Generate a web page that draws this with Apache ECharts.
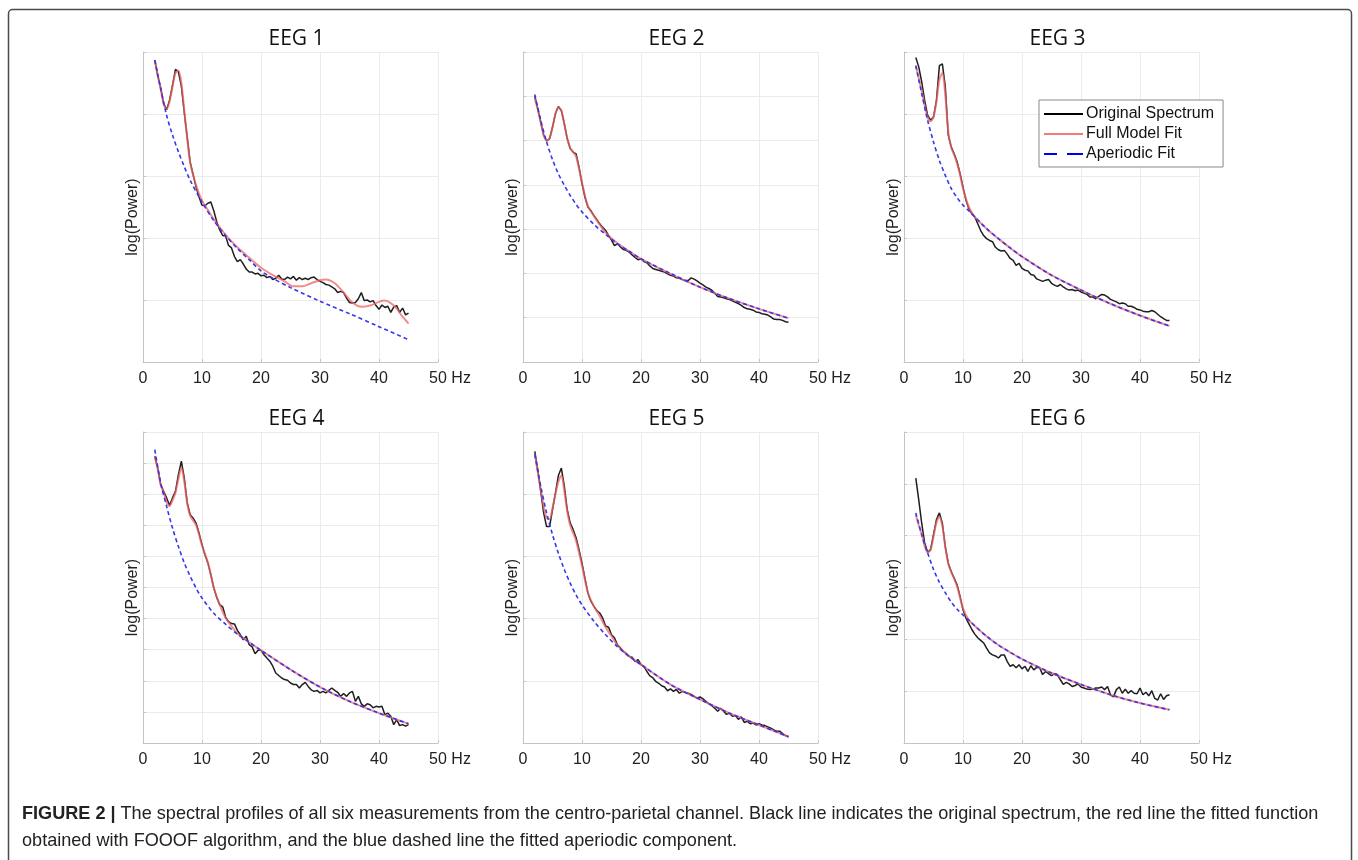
<!DOCTYPE html>
<html>
<head>
<meta charset="utf-8">
<script src="https://cdn.jsdelivr.net/npm/echarts@6/dist/echarts.min.js"></script>
<style>
html,body{margin:0;padding:0;background:#fff;}
#chart{width:1358px;height:860px;}
</style>
</head>
<body>
<div id="chart"></div>
<script>
// Frequencies (Hz) of the original spectra
const FREQ = [2,2.5,3,3.5,4,4.5,5,5.5,6,6.5,7,7.5,8,8.5,9,9.5,10,10.5,11,11.5,12,12.5,13,13.5,14,14.5,15,15.5,16,16.5,17,17.5,18,18.5,19,19.5,20,20.5,21,21.5,22,22.5,23,23.5,24,24.5,25,25.5,26,26.5,27,27.5,28,28.5,29,29.5,30,30.5,31,31.5,32,32.5,33,33.5,34,34.5,35,35.5,36,36.5,37,37.5,38,38.5,39,39.5,40,40.5,41,41.5,42,42.5,43,43.5,44,44.5,45];
const X_TICKS = [0,10,20,30,40,50];
const TITLES = ['EEG 1','EEG 2','EEG 3','EEG 4','EEG 5','EEG 6'];
const Y_DIVISIONS = [5,7,5,10,5,6];

// EEG 1
const eeg1Orig = [4.87,4.62,4.42,4.17,4.07,4.22,4.46,4.72,4.68,4.45,4.02,3.62,3.22,3.02,2.82,2.66,2.53,2.52,2.56,2.58,2.44,2.26,2.13,2.04,2.03,1.88,1.84,1.70,1.62,1.65,1.58,1.50,1.45,1.45,1.42,1.43,1.39,1.40,1.36,1.38,1.33,1.35,1.40,1.34,1.33,1.37,1.34,1.38,1.32,1.36,1.33,1.35,1.33,1.36,1.37,1.33,1.30,1.28,1.25,1.24,1.21,1.18,1.12,1.14,1.12,1.03,0.96,0.95,0.96,1.02,1.12,0.99,1.00,0.97,0.99,0.91,0.85,0.92,0.88,0.90,0.80,0.89,0.91,0.80,0.87,0.76,0.79];
const eeg1Full = [[2,4.87],[2.5,4.62],[3,4.40],[3.5,4.16],[4,4.08],[4.5,4.20],[5,4.44],[5.5,4.66],[6,4.70],[6.5,4.50],[7,4.06],[7.5,3.60],[8,3.22],[9,2.85],[10,2.60],[11,2.45],[12,2.30],[14,2.05],[16,1.85],[18,1.68],[20,1.52],[22,1.40],[24,1.30],[25.5,1.22],[27,1.22],[28.5,1.27],[30,1.32],[31,1.33],[32.5,1.27],[34,1.12],[35.5,0.96],[37,0.89],[38.5,0.91],[40,0.97],[41,0.99],[42,0.95],[43,0.86],[44,0.73],[45,0.62]];
const eeg1Aper = [[2,4.87],[3,4.41],[4,3.98],[5,3.66],[6,3.39],[7,3.15],[8,2.93],[10,2.58],[12,2.28],[14,2.04],[16,1.83],[18,1.65],[20,1.47],[22,1.35],[25,1.20],[30,0.98],[35,0.78],[40,0.57],[45,0.36]];

// EEG 2
const eeg2Orig = [6.00,5.72,5.42,5.12,4.99,5.04,5.30,5.61,5.77,5.68,5.38,5.04,4.82,4.74,4.70,4.40,4.03,3.72,3.50,3.42,3.31,3.22,3.12,3.04,2.97,2.86,2.75,2.63,2.67,2.60,2.54,2.52,2.48,2.42,2.36,2.31,2.33,2.27,2.24,2.17,2.11,2.09,2.07,2.05,2.03,1.99,1.96,1.94,1.90,1.89,1.86,1.84,1.84,1.90,1.87,1.83,1.78,1.74,1.69,1.66,1.62,1.55,1.48,1.47,1.45,1.43,1.41,1.38,1.35,1.32,1.28,1.23,1.20,1.19,1.17,1.13,1.12,1.09,1.08,1.06,1.02,0.97,0.96,0.96,0.94,0.91,0.90];
const eeg2Full = [[2,5.95],[2.5,5.70],[3,5.42],[3.5,5.13],[4,5.00],[4.5,5.05],[5,5.30],[5.5,5.60],[6,5.75],[6.5,5.67],[7,5.38],[7.5,5.05],[8,4.83],[8.5,4.74],[9,4.64],[10,4.05],[11,3.52],[12,3.30],[13,3.10],[14,2.92],[16,2.68],[18,2.50],[20,2.33],[25,1.99],[30,1.69],[35,1.43],[40,1.20],[45,0.99]];
const eeg2Aper = [[2,6.04],[3,5.46],[4,4.97],[5,4.57],[6,4.25],[7,3.99],[8,3.76],[9,3.56],[10,3.39],[12,3.11],[14,2.88],[16,2.67],[18,2.50],[20,2.33],[25,2.00],[30,1.69],[35,1.43],[40,1.20],[45,0.99]];

// EEG 3
const eeg3Orig = [4.91,4.76,4.52,4.22,3.98,3.90,3.95,4.22,4.78,4.81,4.44,3.66,3.47,3.36,3.23,3.04,2.82,2.61,2.47,2.39,2.34,2.23,2.12,2.04,1.99,1.96,1.94,1.85,1.81,1.79,1.80,1.74,1.67,1.64,1.56,1.59,1.51,1.48,1.47,1.41,1.40,1.34,1.32,1.30,1.32,1.33,1.27,1.24,1.22,1.25,1.21,1.18,1.16,1.17,1.15,1.16,1.13,1.11,1.09,1.05,1.05,1.02,1.06,1.09,1.08,1.05,1.01,0.99,0.97,0.94,0.95,0.94,0.90,0.90,0.88,0.85,0.84,0.82,0.81,0.81,0.83,0.81,0.77,0.73,0.70,0.67,0.67];
const eeg3Full = [[2,4.78],[2.5,4.58],[3,4.38],[3.5,4.14],[4,3.95],[4.5,3.88],[5,3.95],[5.5,4.20],[6,4.55],[6.5,4.66],[7,4.30],[7.5,3.72],[8,3.46],[8.5,3.34],[9,3.20],[9.5,3.02],[10,2.80],[11,2.50],[12,2.34],[14,2.15],[16,1.99],[18,1.84],[20,1.70],[25,1.40],[30,1.16],[35,0.94],[40,0.75],[45,0.58]];
const eeg3Aper = [[2,4.78],[3,4.33],[4,3.90],[5,3.55],[6,3.25],[7,3.01],[8,2.80],[9,2.65],[10,2.53],[11.5,2.39],[12,2.34],[14,2.15],[16,1.99],[18,1.84],[20,1.70],[25,1.40],[30,1.16],[35,0.94],[40,0.75],[45,0.58]];

// EEG 4
const eeg4Orig = [9.22,8.84,8.31,8.09,7.88,7.64,7.88,8.09,8.63,9.06,8.52,7.72,7.34,7.23,7.07,6.75,6.38,6.05,5.79,5.41,4.98,4.68,4.45,4.38,4.05,3.90,3.84,3.83,3.62,3.48,3.32,3.43,3.16,3.09,2.87,2.98,2.98,2.84,2.73,2.63,2.47,2.25,2.17,2.09,2.04,2.02,1.93,1.88,1.88,1.77,1.88,1.95,1.82,1.71,1.66,1.69,1.61,1.66,1.61,1.69,1.77,1.69,1.63,1.50,1.59,1.50,1.61,1.66,1.34,1.50,1.26,1.18,1.26,1.23,1.13,1.18,1.16,1.18,0.91,0.96,0.86,0.59,0.75,0.56,0.59,0.54,0.59];
const eeg4Full = [[2,9.20],[2.5,8.80],[3,8.30],[3.5,8.05],[4,7.75],[4.5,7.62],[5,7.80],[5.5,8.05],[6,8.48],[6.5,8.85],[7,8.40],[7.5,7.70],[8,7.30],[9,7.00],[10,6.35],[11,5.80],[12,5.00],[13,4.45],[14,4.02],[15,3.76],[16,3.52],[18,3.24],[20,2.98],[25,2.36],[30,1.80],[35,1.34],[40,0.96],[45,0.62]];
const eeg4Aper = [[2,9.43],[3,8.36],[4,7.61],[5,6.91],[6,6.32],[7,5.79],[8,5.36],[9,4.98],[10,4.66],[12,4.17],[14,3.82],[16,3.50],[18,3.24],[20,2.98],[25,2.36],[30,1.80],[35,1.34],[40,0.96],[45,0.62]];

// EEG 5
const eeg5Orig = [4.69,4.39,4.05,3.70,3.48,3.48,3.75,4.02,4.30,4.42,4.13,3.75,3.54,3.43,3.30,3.11,2.89,2.65,2.41,2.28,2.20,2.13,2.09,2.01,1.88,1.86,1.74,1.69,1.58,1.53,1.47,1.44,1.39,1.38,1.31,1.34,1.26,1.23,1.15,1.08,1.05,0.99,0.96,0.92,0.90,0.84,0.87,0.83,0.86,0.80,0.83,0.81,0.80,0.78,0.75,0.72,0.74,0.71,0.67,0.63,0.60,0.56,0.51,0.56,0.51,0.46,0.48,0.43,0.44,0.38,0.42,0.33,0.35,0.31,0.32,0.29,0.31,0.29,0.28,0.26,0.24,0.21,0.19,0.19,0.15,0.12,0.10];
const eeg5Full = [[2,4.64],[2.5,4.36],[3,4.08],[3.5,3.80],[4,3.62],[4.5,3.60],[5,3.78],[5.5,4.00],[6,4.20],[6.5,4.30],[7,4.05],[7.5,3.72],[8,3.50],[9,3.25],[10,2.85],[11,2.42],[12,2.20],[13,2.04],[14,1.86],[15,1.72],[16,1.57],[18,1.40],[20,1.26],[25,0.94],[30,0.70],[35,0.48],[40,0.29],[45,0.10]];
const eeg5Aper = [[2,4.64],[3,4.13],[4,3.70],[5,3.35],[6,3.05],[7,2.79],[8,2.57],[9,2.38],[10,2.22],[12,1.96],[14,1.74],[16,1.55],[18,1.39],[20,1.26],[25,0.94],[30,0.70],[35,0.48],[40,0.29],[45,0.10]];

// EEG 6
const eeg6Orig = [5.11,4.69,4.24,3.86,3.68,3.73,4.02,4.31,4.44,4.24,3.79,3.47,3.31,3.18,3.05,2.83,2.57,2.41,2.30,2.19,2.10,2.03,1.98,1.93,1.83,1.74,1.70,1.68,1.64,1.70,1.70,1.57,1.48,1.51,1.45,1.51,1.43,1.48,1.38,1.49,1.41,1.46,1.45,1.32,1.38,1.34,1.30,1.34,1.32,1.22,1.13,1.17,1.14,1.09,1.11,1.14,1.08,1.06,1.04,1.03,1.04,1.06,1.06,1.08,1.03,1.09,0.93,0.89,1.03,1.08,0.96,1.04,0.96,1.01,0.96,0.95,1.06,0.93,0.98,0.91,1.01,0.86,0.83,0.95,0.84,0.91,0.93];
const eeg6Full = [[2,4.40],[2.5,4.20],[3,4.03],[3.5,3.80],[4,3.68],[4.5,3.72],[5,3.98],[5.5,4.25],[6,4.36],[6.5,4.18],[7,3.78],[7.5,3.46],[8,3.30],[8.5,3.17],[9,3.02],[10,2.60],[11,2.37],[12,2.26],[14,2.06],[16,1.89],[18,1.75],[20,1.62],[25,1.35],[30,1.13],[35,0.93],[40,0.77],[45,0.64]];
const eeg6Aper = [[2,4.44],[3,4.02],[4,3.67],[5,3.35],[6,3.10],[7,2.90],[8,2.72],[9,2.58],[10,2.47],[11,2.37],[12,2.26],[14,2.06],[16,1.89],[18,1.75],[20,1.62],[25,1.35],[30,1.13],[35,0.93],[40,0.77],[45,0.64]];

const ORIG = [eeg1Orig,eeg2Orig,eeg3Orig,eeg4Orig,eeg5Orig,eeg6Orig];
const FULL = [eeg1Full,eeg2Full,eeg3Full,eeg4Full,eeg5Full,eeg6Full];
const APER = [eeg1Aper,eeg2Aper,eeg3Aper,eeg4Aper,eeg5Aper,eeg6Aper];

// layout
const GRID_POS = [[143,52],[523,52],[904,52],[143,432],[523,432],[904,432]];
const GRID_W = 295, GRID_H = [310,310,310,311,311,311];

const SANS = '"Liberation Sans", Arial, Helvetica, sans-serif';
const grids = [], xAxes = [], yAxes = [], series = [], graphics = [];

for (let i = 0; i < 6; i++) {
  grids.push({left: GRID_POS[i][0], top: GRID_POS[i][1], width: GRID_W, height: GRID_H[i], containLabel: false});
  xAxes.push({
    type: 'value', gridIndex: i, min: X_TICKS[0], max: X_TICKS[X_TICKS.length-1], interval: 10,
    axisLine: {show: true, lineStyle: {color: '#c4c4c4', width: 1}},
    axisTick: {show: true, inside: true, length: 3, lineStyle: {color: '#c4c4c4'}},
    splitLine: {show: true, lineStyle: {color: '#ebebeb', width: 1}},
    axisLabel: {
      margin: 9, fontSize: 16, color: '#222', fontFamily: SANS,
      formatter: v => v === 50 ? '{h|Hz }50 Hz' : String(v),
      rich: {h: {fontSize: 16, fontFamily: SANS, color: 'rgba(0,0,0,0)'}}
    }
  });
  yAxes.push({
    type: 'value', gridIndex: i, min: 0, max: Y_DIVISIONS[i], interval: 1,
    name: 'log(Power)', nameLocation: 'middle', nameGap: 2, nameRotate: 90,
    nameTextStyle: {fontSize: 16, color: '#222', fontFamily: SANS, padding: [0, 20, 0, 0]},
    axisLine: {show: true, lineStyle: {color: '#c4c4c4', width: 1}},
    axisTick: {show: true, inside: true, length: 3, lineStyle: {color: '#c4c4c4'}},
    axisLabel: {show: false},
    splitLine: {show: true, lineStyle: {color: '#ebebeb', width: 1}}
  });
  series.push({
    name: 'Original Spectrum', type: 'line', xAxisIndex: i, yAxisIndex: i,
    data: ORIG[i].map((v, k) => [FREQ[k], v]),
    symbol: 'none', lineStyle: {color: '#1f1f1f', width: 1.5}, itemStyle: {color: '#1f1f1f'}, z: 2
  });
  series.push({
    name: 'Full Model Fit', type: 'line', xAxisIndex: i, yAxisIndex: i,
    data: FULL[i], smooth: 0.3,
    symbol: 'none', lineStyle: {color: '#f06565', width: 2, opacity: 0.75}, itemStyle: {color: '#f06565'}, z: 3
  });
  series.push({
    name: 'Aperiodic Fit', type: 'line', xAxisIndex: i, yAxisIndex: i,
    data: APER[i], smooth: 0.3,
    symbol: 'none', lineStyle: {color: '#3636ee', width: 1.6, type: [4, 3]}, itemStyle: {color: '#3636ee'}, z: 4
  });
  const cx = GRID_POS[i][0] + GRID_W / 2 + 6;
  const cy = GRID_POS[i][1] - 13;
  graphics.push({type: 'text', x: cx, y: cy, style: {text: TITLES[i], font: '21px "Open Sans", "Noto Sans", sans-serif', fill: '#111', textAlign: 'center', textVerticalAlign: 'middle'}});
}

// frame
graphics.push({type: 'rect', shape: {x: 8.5, y: 9.5, width: 1343, height: 900, r: 4}, style: {fill: 'none', stroke: '#4a4a4a', lineWidth: 1.5}, z: -1});
// caption
graphics.push({type: 'text', x: 22, y: 814, style: {
  text: '{b|FIGURE 2 |} The spectral profiles of all six measurements from the centro-parietal channel. Black line indicates the original spectrum, the red line the fitted function',
  font: '18.1px ' + SANS, fill: '#222', textVerticalAlign: 'middle',
  rich: {b: {font: 'bold 18.1px ' + SANS, fill: '#222'}}
}});
graphics.push({type: 'text', x: 22, y: 841, style: {
  text: 'obtained with FOOOF algorithm, and the blue dashed line the fitted aperiodic component.',
  font: '18.1px ' + SANS, fill: '#222', textVerticalAlign: 'middle'
}});

const chart = echarts.init(document.getElementById('chart'), null, {renderer: 'canvas'});
chart.setOption({
  animation: false,
  backgroundColor: '#fff',
  grid: grids, xAxis: xAxes, yAxis: yAxes, series: series,
  legend: {
    orient: 'vertical', left: 1039, top: 100,
    itemWidth: 39, itemHeight: 14, itemGap: 4,
    padding: [6, 9, 5, 5],
    borderColor: '#888', borderWidth: 1, backgroundColor: '#fff',
    textStyle: {fontSize: 16, color: '#111', fontFamily: SANS, padding: [0, 0, 0, -2]},
    selectedMode: false,
    data: [
      {name: 'Original Spectrum', icon: 'path://M0 0H39V2.2H0Z', itemStyle: {color: '#000'}},
      {name: 'Full Model Fit', icon: 'path://M0 0H39V2.2H0Z', itemStyle: {color: '#f37a7a'}},
      {name: 'Aperiodic Fit', icon: 'path://M0 0H13V2.2H0Z M23 0H39V2.2H23Z', itemStyle: {color: '#0000ee'}}
    ]
  },
  graphic: graphics
});
</script>
</body>
</html>
